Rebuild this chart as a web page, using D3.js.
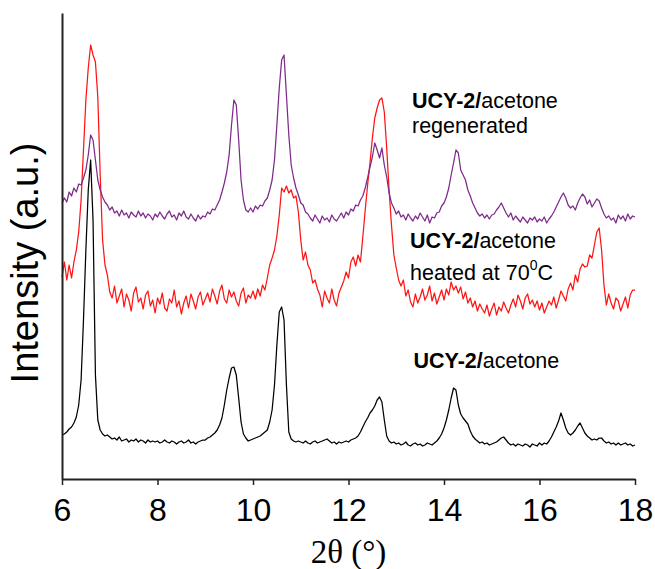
<!DOCTYPE html>
<html>
<head>
<meta charset="utf-8">
<title>UCY-2 XRD</title>
<style>
  body { margin: 0; background: #fff; }
  text { font-family: "Liberation Sans", Arial, sans-serif; }
</style>
</head>
<body>
<div id="chart"></div>
<script src="https://d3js.org/d3.v7.min.js"></script>
<script>
var width = 655;
var height = 569;

// scan grid, 2theta from 6 to 18 deg in 0.05 deg steps
var twoTheta = d3.range(6, 18.001, 0.05);
var xTicks = [6, 8, 10, 12, 14, 16, 18];

// intensities (a.u., offset traces as plotted), one row per degree
var acetone = [
  44,45,47,50,52,56,62,74,99,159,229,289,319,259,104,59,49,45,43,44,
  42,40,41,39,42,38,39,40,37,39,38,40,37,39,38,36,39,37,38,37,
  38,36,37,39,37,36,38,37,35,37,38,36,37,39,36,37,35,37,38,39,
  39,41,42,44,46,49,54,61,74,89,101,111,112,104,81,57,45,41,38,39,
  40,41,42,43,45,47,49,57,69,94,134,167,172,159,94,47,40,38,37,38,
  37,36,38,36,35,37,38,36,37,38,39,40,38,36,37,35,37,36,37,38,
  37,39,40,41,43,47,52,57,61,66,69,73,79,82,77,59,43,38,36,37,
  35,36,34,35,37,34,33,35,36,34,35,33,34,36,35,34,36,38,41,45,
  51,59,69,81,91,89,74,65,61,58,55,48,43,40,38,36,37,35,36,34,
  35,36,37,39,41,42,39,36,34,35,33,35,34,33,35,34,32,35,34,33,
  36,34,36,35,38,42,47,52,58,66,59,51,46,44,46,49,53,56,51,46,
  43,41,39,40,39,41,41,38,36,37,35,36,34,36,34,35,36,34,35,33,
  34
];

var heated = [
  202,217,199,214,201,217,229,247,279,329,379,411,434,424,417,382,304,239,214,204,
  187,181,193,176,183,190,172,185,179,168,186,192,177,181,170,184,188,173,179,166,
  181,175,186,171,168,180,176,189,172,178,165,176,183,171,185,178,170,182,187,174,
  180,186,177,190,183,175,188,194,180,176,189,182,187,178,173,186,191,176,184,181,
  188,180,190,183,194,189,201,214,221,229,243,264,291,287,293,286,289,281,283,267,
  239,219,227,214,209,196,199,190,184,172,188,181,176,190,179,173,186,192,198,207,
  201,217,222,213,224,217,242,269,294,316,341,361,371,379,381,367,331,289,254,224,
  211,199,193,199,183,189,177,172,185,176,182,190,179,184,193,178,186,175,182,189,
  179,190,184,197,189,193,186,192,180,187,176,181,172,178,168,175,170,166,174,163,
  170,176,164,172,168,177,171,166,174,180,172,184,178,170,181,185,175,179,172,178,
  169,176,166,172,178,174,182,171,179,188,183,178,190,196,189,204,197,210,215,212,
  213,224,221,234,247,251,229,194,174,185,176,170,181,178,168,175,182,171,184,189,
  189
];

var regenerated = [
  276,281,277,287,283,291,287,295,294,301,309,324,344,339,319,299,289,282,277,274,
  269,272,266,268,263,269,264,266,261,267,264,262,268,263,266,261,265,263,259,265,
  262,267,263,260,265,268,262,264,259,266,263,268,262,260,265,261,258,264,260,263,
  262,267,265,270,269,274,279,287,296,307,324,354,379,374,339,299,279,269,267,271,
  267,273,270,274,273,278,281,289,299,319,354,391,419,424,384,344,314,301,291,284,
  276,274,267,265,261,258,264,260,256,263,259,261,257,264,260,258,262,266,261,267,
  264,270,268,274,273,279,283,291,301,312,322,336,329,321,331,314,302,286,276,271,
  265,268,262,264,259,265,261,258,263,260,266,262,258,264,256,262,261,266,267,273,
  276,282,291,304,316,329,326,309,304,299,289,283,276,271,266,263,265,261,264,260,
  264,265,269,272,276,271,266,262,266,259,263,260,257,262,259,256,261,259,262,257,
  260,258,262,256,260,263,267,272,277,282,286,281,274,271,273,269,276,281,285,282,
  275,279,272,276,280,278,271,265,261,263,259,261,256,264,260,263,258,265,260,263,
  262
];

var series = [
  { values: acetone, color: "#000000" },
  { values: heated, color: "#ff1414" },
  { values: regenerated, color: "#7e2a8b" }
];

var margin = { left: 62, right: 20, top: 13, bottom: 90 };

var x = d3.scaleLinear()
  .domain([6, 18])
  .range([margin.left, width - margin.right]);

var y = d3.scaleLinear()
  .domain([0, 466])
  .range([height - margin.bottom, margin.top]);

var svg = d3.select('#chart')
  .append('svg')
  .attr('width', width)
  .attr('height', height);

var line = d3.line()
  .x(function(d) { return x(d[0]); })
  .y(function(d) { return y(d[1]); });

svg.selectAll('path.trace')
  .data(series)
  .enter()
  .append('path')
  .attr('class', 'trace')
  .attr('fill', 'none')
  .attr('stroke', function(d) { return d.color; })
  .attr('stroke-width', 1.25)
  .attr('stroke-linejoin', 'round')
  .attr('d', function(d) {
    return line(d.values.map(function(v, i) { return [twoTheta[i], v]; }));
  });

// axes
var xAxis = svg.append('g')
  .attr('transform', 'translate(0,' + y(0) + ')')
  .call(d3.axisBottom(x).tickValues(xTicks).tickSize(6).tickSizeOuter(0).tickPadding(13));
xAxis.select('.domain').attr('stroke', '#222').attr('stroke-width', 2);
xAxis.selectAll('.tick line').attr('stroke', '#222').attr('stroke-width', 1.5);
xAxis.selectAll('.tick text')
  .attr('fill', '#000')
  .style('font-family', '"Liberation Sans", Arial, sans-serif')
  .style('font-size', '32px');

var yAxis = svg.append('g')
  .attr('transform', 'translate(' + x(6) + ',0)')
  .call(d3.axisLeft(y).ticks(0).tickSizeOuter(0));
yAxis.select('.domain').attr('stroke', '#222').attr('stroke-width', 2);

// axis titles
svg.append('text')
  .attr('x', (x(6) + x(18)) / 2)
  .attr('y', 563)
  .attr('text-anchor', 'middle')
  .style('font-family', '"Liberation Serif", "Times New Roman", serif')
  .style('font-size', '33px')
  .text('2\u03b8 (\u00b0)');

svg.append('text')
  .attr('transform', 'translate(38,263) rotate(-90)')
  .attr('text-anchor', 'middle')
  .style('font-size', '38px')
  .text('Intensity (a.u.)');

// trace labels
function label(xa, ya) {
  var t = svg.append('text')
    .attr('x', x(xa))
    .attr('y', y(ya))
    .style('font-size', '21.5px');
  t.append('tspan').style('font-weight', 'bold').text('UCY-2/');
  t.append('tspan').text('acetone');
  return t;
}

label(13.33, 371);
svg.append('text')
  .attr('x', x(13.33)).attr('y', y(346))
  .style('font-size', '21.5px')
  .text('regenerated');

label(13.29, 231);
var h = svg.append('text')
  .attr('x', x(13.29)).attr('y', y(199))
  .style('font-size', '21.5px');
h.append('tspan').text('heated at 70');
h.append('tspan').attr('dy', -10).style('font-size', '14px').text('0');
h.append('tspan').attr('dy', 10).text('C');

label(13.36, 111);
</script>
</body>
</html>
